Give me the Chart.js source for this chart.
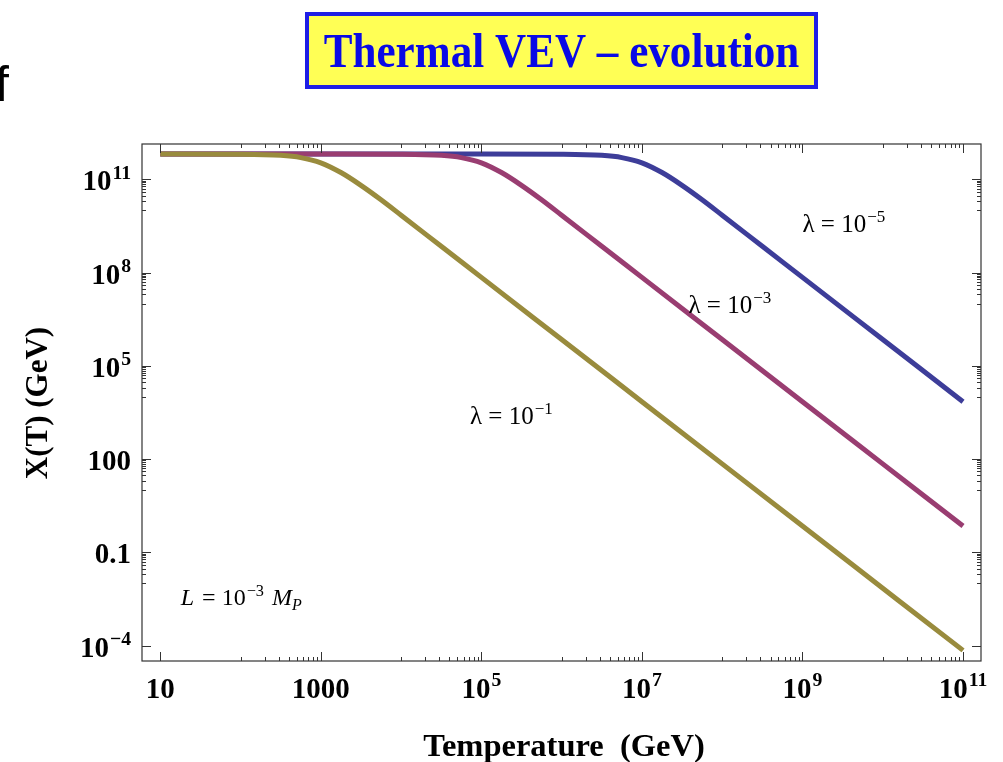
<!DOCTYPE html>
<html>
<head>
<meta charset="utf-8">
<script src="https://cdn.jsdelivr.net/npm/chart.js@4.4.0/dist/chart.umd.min.js"></script>
<style>
  html, body { margin: 0; padding: 0; background: #fff; }
  #wrap { position: relative; width: 1003px; height: 762px; }
</style>
</head>
<body>
<div id="wrap"><canvas id="vev" width="1003" height="762"></canvas></div>
<script>
// X(T) in GeV against temperature in GeV, one curve per coupling λ
const tempL1 = [10, 100, 316, 562, 1000, 1780, 3160, 5620, 1e4, 3.16e4, 1e5, 1e6, 1e7, 1e8, 1e9, 1e10, 1e11];
const vevL1  = [6.5e11, 6.4e11, 5.9e11, 5.0e11, 3.4e11, 1.65e11, 6.4e10, 2.2e10, 7e9, 7e8, 7e7, 7e5, 7e3, 70, 0.7, 7e-3, 7e-5];

const tempL3 = [10, 1000, 1e4, 3.16e4, 5.62e4, 1e5, 1.78e5, 3.16e5, 5.62e5, 1e6, 3.16e6, 1e7, 1e8, 1e9, 1e10, 1e11];
const vevL3  = [6.5e11, 6.5e11, 6.4e11, 5.9e11, 5.0e11, 3.4e11, 1.65e11, 6.4e10, 2.2e10, 7e9, 7e8, 7e7, 7e5, 7e3, 70, 0.7];

const tempL5 = [10, 1000, 1e5, 1e6, 3.16e6, 5.62e6, 1e7, 1.78e7, 3.16e7, 5.62e7, 1e8, 3.16e8, 1e9, 1e10, 1e11];
const vevL5  = [6.5e11, 6.5e11, 6.5e11, 6.4e11, 5.9e11, 5.0e11, 3.4e11, 1.65e11, 6.4e10, 2.2e10, 7e9, 7e8, 7e7, 7e5, 7e3];

// axis ticks ('^' marks the exponent)
const xTicks = [10, 1000, 1e5, 1e7, 1e9, 1e11];
const xTickLabels = ['10', '1000', '10^5', '10^7', '10^9', '10^11'];
const yTicks = [1e11, 1e8, 1e5, 100, 0.1, 1e-4];
const yTickLabels = ['10^11', '10^8', '10^5', '100', '0.1', '10^\u22124'];

// curve labels, anchored at (T, X) on the left baseline
const noteTemps = [1.0e9, 3.8e7, 7.2e4];
const noteVevs  = [2.0e9, 5.0e6, 1.3e3];
const noteExps  = ['\u22125', '\u22123', '\u22121'];

const GOLD = '#998b3d', PURPLE = '#993d71', BLUE = '#3d3d99';
const SERIF = '"Liberation Serif", "Times New Roman", serif';

function toPoints(ts, vs) {
  return ts.map((t, i) => ({ x: t, y: vs[i] }));
}

function font(size, weight, style) {
  return `${style || 'normal'} ${weight || 'normal'} ${size}px ${SERIF}`;
}

// base text with a raised exponent, e.g. '10^5'
function supText(ctx, str, x, y, align, size, weight) {
  const [base, exp] = str.split('^');
  ctx.font = font(size, weight);
  const wb = ctx.measureText(base).width;
  let we = 0;
  if (exp) {
    ctx.font = font(size * 0.68, weight);
    we = ctx.measureText(exp).width + 1;
  }
  const w = wb + we;
  const x0 = align === 'right' ? x - w : align === 'center' ? x - w / 2 : x;
  ctx.textAlign = 'left';
  ctx.textBaseline = 'alphabetic';
  ctx.font = font(size, weight);
  ctx.fillText(base, x0, y);
  if (exp) {
    ctx.font = font(size * 0.68, weight);
    ctx.fillText(exp, x0 + wb + 1, y - size * 0.4);
  }
  return w;
}

// minor ticks sit in the decade just below each major tick
function minorTicks(majors) {
  const out = [];
  const sorted = majors.slice().sort((a, b) => a - b);
  for (let i = 1; i < sorted.length; i++) {
    for (let m = 1; m <= 9; m++) out.push(sorted[i] / 10 * m);
  }
  return out;
}

const framePlugin = {
  id: 'framePlugin',
  beforeDraw(chart) {
    const ctx = chart.ctx;
    ctx.save();
    ctx.fillStyle = '#fff';
    ctx.fillRect(0, 0, chart.width, chart.height);

    // header box
    ctx.fillStyle = '#ffff55';
    ctx.fillRect(305, 12, 513, 77);
    ctx.strokeStyle = '#1e1ee6';
    ctx.lineWidth = 4;
    ctx.strokeRect(307, 14, 509, 73);
    ctx.fillStyle = '#0a0ae6';
    ctx.save();
    ctx.translate(561.5, 67);
    ctx.scale(0.88, 1);
    ctx.font = font(49, 'bold');
    ctx.textAlign = 'center';
    ctx.textBaseline = 'alphabetic';
    ctx.fillText('Thermal VEV \u2013 evolution', 0, 0);
    ctx.restore();

    // stray letter from the slide edge
    ctx.fillStyle = '#000';
    ctx.font = '50px "Liberation Sans", Arial, sans-serif';
    ctx.textAlign = 'left';
    ctx.fillText('f', -5, 101);
    ctx.restore();
  },
  afterDatasetsDraw(chart) {
    const { ctx, chartArea: a, scales } = chart;
    const xs = scales.x, ys = scales.y;
    ctx.save();
    ctx.strokeStyle = '#333';
    ctx.lineWidth = 1.2;
    ctx.strokeRect(a.left, a.top, a.right - a.left, a.bottom - a.top);

    ctx.lineWidth = 1;
    ctx.beginPath();
    const tickX = (vals, len) => vals.forEach(v => {
      const px = Math.round(xs.getPixelForValue(v)) + 0.5;
      ctx.moveTo(px, a.bottom); ctx.lineTo(px, a.bottom - len);
      ctx.moveTo(px, a.top); ctx.lineTo(px, a.top + len);
    });
    const tickY = (vals, len) => vals.forEach(v => {
      const py = Math.round(ys.getPixelForValue(v)) + 0.5;
      ctx.moveTo(a.left, py); ctx.lineTo(a.left + len, py);
      ctx.moveTo(a.right, py); ctx.lineTo(a.right - len, py);
    });
    tickX(xTicks, 9);
    tickX(minorTicks(xTicks), 4);
    tickY(yTicks, 9);
    tickY(minorTicks(yTicks), 4);
    ctx.stroke();
    ctx.restore();
  },
  afterDraw(chart) {
    const { ctx, scales } = chart;
    const xs = scales.x, ys = scales.y;
    ctx.save();
    ctx.fillStyle = '#000';

    // tick labels
    xTicks.forEach((v, i) => supText(ctx, xTickLabels[i], xs.getPixelForValue(v), 698, 'center', 29, 'bold'));
    yTicks.forEach((v, i) => supText(ctx, yTickLabels[i], 131, ys.getPixelForValue(v) + 11, 'right', 29, 'bold'));

    // axis titles
    ctx.font = font(32.5, 'bold');
    ctx.textAlign = 'center';
    ctx.textBaseline = 'alphabetic';
    ctx.fillText('Temperature  (GeV)', 564, 756);
    ctx.save();
    ctx.translate(47, 403);
    ctx.rotate(-Math.PI / 2);
    ctx.font = font(31, 'bold');
    ctx.fillText('X(T) (GeV)', 0, 0);
    ctx.restore();

    // curve labels
    noteTemps.forEach((t, i) => {
      supText(ctx, '\u03bb = 10^' + noteExps[i], xs.getPixelForValue(t), ys.getPixelForValue(noteVevs[i]), 'left', 25);
    });

    // L = 10^-3 M_P
    let x = xs.getPixelForValue(18);
    const y = ys.getPixelForValue(2e-3);
    ctx.textAlign = 'left';
    ctx.font = font(24, 'normal', 'italic');
    ctx.fillText('L', x, y);
    x += ctx.measureText('L ').width + 2;
    x += supText(ctx, '= 10^\u22123', x, y, 'left', 24);
    ctx.font = font(24, 'normal', 'italic');
    x += ctx.measureText(' ').width + 2;
    ctx.fillText('M', x, y);
    x += ctx.measureText('M').width;
    ctx.font = font(16, 'normal', 'italic');
    ctx.fillText('P', x, y + 5);
    ctx.restore();
  }
};

const lineSet = (label, ts, vs, color) => ({
  label,
  data: toPoints(ts, vs),
  borderColor: color,
  backgroundColor: color,
  borderWidth: 5,
  borderCapStyle: 'butt',
  pointRadius: 0,
  fill: false,
  cubicInterpolationMode: 'monotone'
});

new Chart(document.getElementById('vev').getContext('2d'), {
  type: 'line',
  data: {
    datasets: [
      lineSet('\u03bb = 10^-1', tempL1, vevL1, GOLD),
      lineSet('\u03bb = 10^-3', tempL3, vevL3, PURPLE),
      lineSet('\u03bb = 10^-5', tempL5, vevL5, BLUE)
    ]
  },
  options: {
    responsive: false,
    animation: false,
    layout: { padding: { left: 142, right: 22, top: 144, bottom: 101 } },
    plugins: { legend: { display: false }, tooltip: { enabled: false } },
    scales: {
      x: { type: 'logarithmic', min: 5.92, max: 1.675e11, display: false },
      y: { type: 'logarithmic', min: 3.19e-5, max: 1.368e12, display: false }
    }
  },
  plugins: [framePlugin]
});
</script>
</body>
</html>
